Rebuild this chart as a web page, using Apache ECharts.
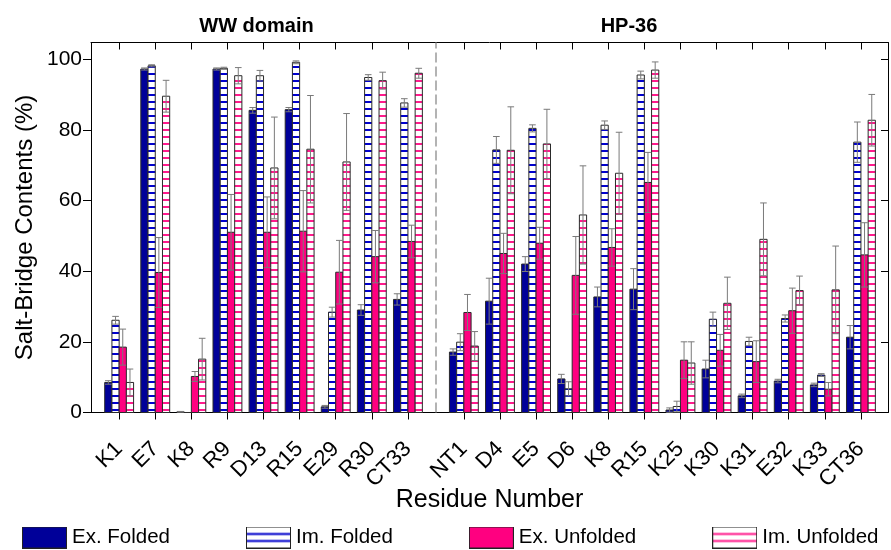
<!DOCTYPE html>
<html><head><meta charset="utf-8">
<script src="https://cdn.jsdelivr.net/npm/echarts@6/dist/echarts.min.js"></script>
<style>html,body{margin:0;padding:0;background:#fff}#c{width:891px;height:550px}</style>
</head><body><div id="c"></div>
<script>
// ---------- data ----------
const wwResidues = ['K1','E7','K8','R9','D13','R15','E29','R30','CT33'];
const hpResidues = ['NT1','D4','E5','D6','K8','R15','K25','K30','K31','E32','K33','CT36'];
const groupTitles = ['WW domain', 'HP-36'];
const seriesNames = ['Ex. Folded', 'Im. Folded', 'Ex. Unfolded', 'Im. Unfolded'];

const exFolded      = [8.5, 97.2, 0.2, 97.2, 85.5, 85.7, 1.6, 29.0, 32.0,
                       17.1, 31.5, 42.0, 9.5, 32.7, 34.9, 0.7, 12.3, 4.7, 8.9, 7.8, 21.3];
const exFoldedErr   = [0.5, 0.3, 0.1, 0.3, 0.8, 0.6, 0.4, 1.5, 1.6,
                       0.9, 6.5, 2.1, 1.3, 2.8, 5.8, 0.6, 2.5, 0.5, 0.5, 0.5, 3.3];
const imFolded      = [26.1, 98.1, 0, 97.4, 95.3, 99.1, 28.4, 94.8, 87.6,
                       19.9, 74.3, 80.4, 6.7, 81.3, 95.5, 1.7, 26.4, 20.1, 26.6, 10.6, 76.5];
const imFoldedErr   = [1.1, 0.3, 0, 0.3, 1.5, 0.4, 1.4, 0.8, 1.2,
                       2.4, 3.8, 1.0, 2.0, 1.2, 1.1, 1.5, 2.0, 1.2, 1.0, 0.4, 5.7];
const exUnfolded    = [18.5, 39.6, 10.2, 51.0, 51.0, 51.3, 39.7, 44.1, 48.4,
                       28.3, 45.0, 47.9, 38.8, 46.7, 65.1, 14.8, 17.6, 14.4, 28.8, 6.6, 44.6];
const exUnfoldedErr = [5.1, 9.9, 1.4, 10.7, 10.0, 11.5, 9.0, 7.4, 4.6,
                       5.1, 5.7, 4.5, 11.0, 5.3, 8.5, 5.2, 4.5, 5.9, 6.4, 1.9, 9.1];
const imUnfolded    = [8.5, 89.5, 15.1, 95.3, 69.2, 74.5, 70.9, 93.9, 96.0,
                       18.8, 74.2, 76.0, 55.9, 67.7, 96.9, 14.0, 30.9, 49.0, 34.5, 34.7, 82.7];
const imUnfoldedErr = [3.8, 4.5, 5.9, 2.3, 14.4, 15.2, 13.7, 2.4, 1.4,
                       4.1, 12.3, 9.8, 13.9, 11.6, 2.3, 6.0, 7.4, 10.3, 4.1, 12.4, 7.3];
const yTicks = [0, 20, 40, 60, 80, 100];

// category positions on the x scale (HP-36 group is set apart by a gap)
const groupGap = 0.55;
const residues = wwResidues.concat(hpResidues);
const positions = residues.map((r, i) => i < wwResidues.length ? i + 1 : i + 1 + groupGap);
const separatorX = (wwResidues.length + positions[wwResidues.length]) / 2;

// ---------- styles ----------
const BLUE = '#000099', PINK = '#ff0080', STRIPE_BLUE = '#0000cc', STRIPE_PINK = '#ff1a8c';
function stripePattern(color) {
  const c = document.createElement('canvas'); c.width = 8; c.height = 7;
  const g = c.getContext('2d');
  g.fillStyle = '#fff'; g.fillRect(0, 0, 8, 7);
  g.fillStyle = color; g.fillRect(0, 3, 8, 2);
  return { image: c, repeat: 'repeat' };
}
function legendIcon(fill, stripe) {
  const c = document.createElement('canvas'); c.width = 45; c.height = 22;
  const g = c.getContext('2d');
  g.fillStyle = fill; g.fillRect(0, 0, 45, 22);
  if (stripe) { g.fillStyle = stripe; g.fillRect(1, 6.5, 43, 2); g.fillRect(1, 13.5, 43, 2); }
  g.strokeStyle = '#222'; g.lineWidth = 1; g.strokeRect(0.5, 0.5, 44, 21);
  return 'image://' + c.toDataURL();
}
const fills = [BLUE, stripePattern(STRIPE_BLUE), PINK, stripePattern(STRIPE_PINK)];
const icons = [legendIcon(BLUE), legendIcon('#fff', STRIPE_BLUE), legendIcon(PINK), legendIcon('#fff', STRIPE_PINK)];
const values = [exFolded, imFolded, exUnfolded, imUnfolded];
const errors = [exFoldedErr, imFoldedErr, exUnfoldedErr, imUnfoldedErr];
const BAR_FRAC = 0.2;

function barRender(k) {
  return function (params, api) {
    const x = api.value(0), v = api.value(1);
    const w = api.size([1, 0])[0] * BAR_FRAC;
    const p0 = api.coord([x, 0]), p1 = api.coord([x, v]);
    const left = p0[0] + (k - 2) * w;
    return { type: 'rect', shape: { x: left, y: p1[1], width: w, height: p0[1] - p1[1] },
      style: { fill: fills[k], stroke: '#2a2a2a', lineWidth: 1 } };
  };
}
function errRender(k) {
  return function (params, api) {
    const x = api.value(0), v = api.value(1), e = api.value(2);
    if (!e) return null;
    const w = api.size([1, 0])[0] * BAR_FRAC;
    const cx = api.coord([x, 0])[0] + (k - 1.5) * w;
    const yt = api.coord([x, v + e])[1], yb = api.coord([x, Math.max(0, v - e)])[1];
    const hw = w / 2 - 0.3;
    const st = { stroke: '#7a7a7a', lineWidth: 1 };
    return { type: 'group', children: [
      { type: 'line', shape: { x1: cx, y1: yt, x2: cx, y2: yb }, style: st },
      { type: 'line', shape: { x1: cx - hw, y1: yt, x2: cx + hw, y2: yt }, style: st },
      { type: 'line', shape: { x1: cx - hw, y1: yb, x2: cx + hw, y2: yb }, style: st }
    ] };
  };
}

const FONT = 'Liberation Sans, Arial, sans-serif';
const series = [];
seriesNames.forEach((name, k) => {
  series.push({ type: 'custom', name, renderItem: barRender(k), z: 2,
    encode: { x: 0, y: 1 },
    data: positions.map((p, i) => [p, values[k][i]]) });
});
seriesNames.forEach((name, k) => {
  series.push({ type: 'custom', name, renderItem: errRender(k), z: 3,
    encode: { x: 0, y: [1, 2] },
    data: positions.map((p, i) => [p, values[k][i], errors[k][i]]) });
});
series[0].markLine = { silent: true, symbol: 'none', label: { show: false },
  lineStyle: { color: '#9a9a9a', type: [10, 4], width: 1.5 }, data: [{ xAxis: separatorX }] };

function labelFor(v) {
  const i = positions.findIndex(p => Math.abs(p - v) < 1e-6);
  return i >= 0 ? residues[i] : '';
}

const xMin = 0.22, xMax = 22.3, yMax = 104.7;
const option = {
  animation: false,
  backgroundColor: '#fff',
  grid: { left: 91, right: 3, top: 42.5, bottom: 137.5, containLabel: false },
  graphic: [
    { type: 'text', x: 256.5, y: 26, style: { text: groupTitles[0], font: 'bold 20px ' + FONT, align: 'center', verticalAlign: 'middle', fill: '#000' } },
    { type: 'text', x: 629, y: 26, style: { text: groupTitles[1], font: 'bold 20px ' + FONT, align: 'center', verticalAlign: 'middle', fill: '#000' } }
  ],
  legend: {
    left: 22, top: 526.5, padding: 0, itemGap: 76, itemWidth: 45, itemHeight: 22,
    textStyle: { fontSize: 20.5, fontFamily: FONT, color: '#000' },
    data: seriesNames.map((n, k) => ({ name: n, icon: icons[k] })),
    selectedMode: false
  },
  xAxis: [
    { type: 'value', min: xMin, max: xMax, position: 'bottom',
      axisLine: { show: true, onZero: false, lineStyle: { color: '#000', width: 1 } },
      splitLine: { show: false },
      axisTick: { show: true, inside: false, length: 7, customValues: positions, lineStyle: { color: '#000' } },
      axisLabel: { show: true, customValues: positions, rotate: 45, formatter: labelFor, fontSize: 22, fontFamily: FONT, color: '#000', margin: 33 },
      name: 'Residue Number', nameLocation: 'middle', nameGap: 75, nameMoveOverlap: false,
      nameTextStyle: { fontSize: 25, fontFamily: FONT, color: '#000' } },
    { type: 'value', min: xMin, max: xMax, position: 'top',
      axisLine: { show: true, onZero: false, lineStyle: { color: '#000', width: 1 } },
      splitLine: { show: false },
      axisTick: { show: true, inside: true, length: 7, customValues: positions, lineStyle: { color: '#000' } },
      axisLabel: { show: false } }
  ],
  yAxis: [
    { type: 'value', min: 0, max: yMax, position: 'left',
      axisLine: { show: true, onZero: false, lineStyle: { color: '#000', width: 1 } },
      splitLine: { show: false },
      axisTick: { show: true, inside: false, length: 8, customValues: yTicks, lineStyle: { color: '#000' } },
      axisLabel: { show: true, customValues: yTicks, fontSize: 21, fontFamily: FONT, color: '#000', margin: 9 },
      name: 'Salt-Bridge Contents (%)', nameLocation: 'middle', nameGap: 54, nameMoveOverlap: false,
      nameTextStyle: { fontSize: 24, fontFamily: FONT, color: '#000' } },
    { type: 'value', min: 0, max: yMax, position: 'right',
      axisLine: { show: true, onZero: false, lineStyle: { color: '#000', width: 1 } },
      splitLine: { show: false },
      axisTick: { show: true, inside: true, length: 7, customValues: yTicks, lineStyle: { color: '#000' } },
      axisLabel: { show: false } }
  ],
  series
};
const chart = echarts.init(document.getElementById('c'), null, { renderer: 'canvas' });
chart.setOption(option);
</script></body></html>
